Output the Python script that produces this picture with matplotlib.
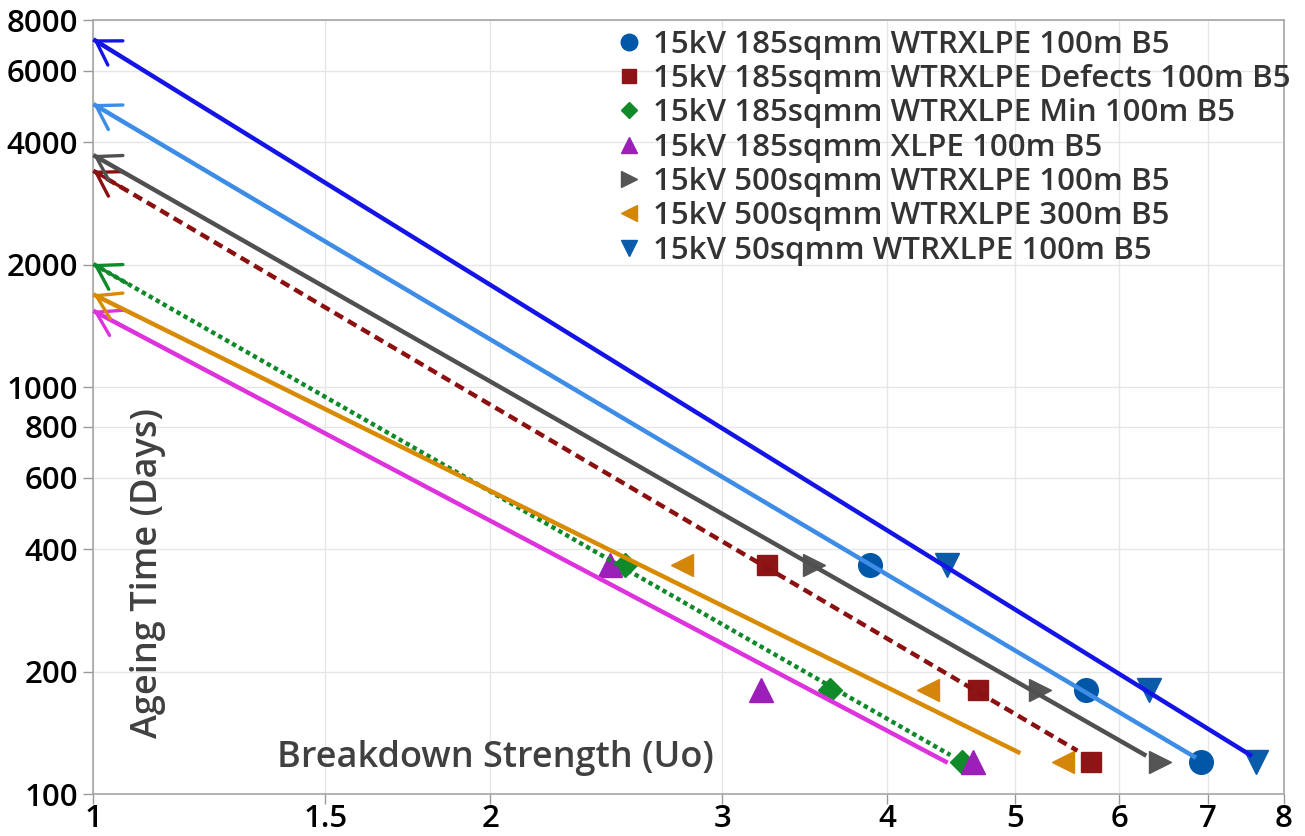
import numpy as np
import matplotlib
matplotlib.use('Agg')
import matplotlib.pyplot as plt
from matplotlib.ticker import FixedLocator, NullLocator

plt.rcParams['font.family'] = ['Open Sans', 'DejaVu Sans']

# series names (legend order)
labels = ['15kV 185sqmm WTRXLPE 100m B5',
          '15kV 185sqmm WTRXLPE Defects 100m B5',
          '15kV 185sqmm WTRXLPE Min 100m B5',
          '15kV 185sqmm XLPE 100m B5',
          '15kV 500sqmm WTRXLPE 100m B5',
          '15kV 500sqmm WTRXLPE 300m B5',
          '15kV 50sqmm WTRXLPE 100m B5']

# ageing times of the test points (days)
ageing_days = [365, 180, 120]

# breakdown strength (Uo) at each ageing time, one list per series
bd_185 = [3.885, 5.666, 6.915]
bd_185_defects = [3.243, 4.686, 5.710]
bd_185_min = [2.529, 3.623, 4.561]
bd_185_xlpe = [2.465, 3.212, 4.646]
bd_500_100 = [3.523, 5.221, 6.442]
bd_500_300 = [2.795, 4.298, 5.443]
bd_50 = [4.440, 6.319, 7.613]
breakdown = [bd_185, bd_185_defects, bd_185_min, bd_185_xlpe,
             bd_500_100, bd_500_300, bd_50]

# fitted life lines: ageing time at 1 Uo, and end point of each line
fit_y_at_1 = [4973, 3409, 2010, 1543, 3726, 1693, 7174]
fit_end_x = [6.86, 5.577, 4.467, 4.446, 6.29, 5.048, 7.565]
fit_end_y = [122.8, 127.8, 124.7, 119.4, 124.2, 126.0, 124.0]

marker_style = ['o', 's', 'D', '^', '>', '<', 'v']
marker_size = [17, 15, 12, 17, 16, 16, 17]
marker_color = ['#0057a8', '#8e1515', '#118a2a', '#9b1fb8',
                '#555555', '#d4860b', '#0a5cab']
line_color = ['#3d8ce6', '#8b1010', '#0f8a2a', '#dd33dd',
              '#505050', '#d88a00', '#1414e6']
line_style = ['-', (0, (2.2, 1.3)), (0, (1, 0.8)), '-', '-', '-', '-']

xticks = [1, 1.5, 2, 3, 4, 5, 6, 7, 8]
yticks = [100, 200, 400, 600, 800, 1000, 2000, 4000, 6000, 8000]

fig = plt.figure(figsize=(13.05, 8.36), dpi=100)
ax = fig.add_axes([0.0715, 0.0502, 0.9124, 0.9258])
ax.set_xscale('log')
ax.set_yscale('log')
ax.set_xlim(1, 8)
ax.set_ylim(100, 8000)

for i in range(len(labels)):
    ax.plot(breakdown[i], ageing_days, ls='none', marker=marker_style[i],
            ms=marker_size[i], color=marker_color[i], mec=marker_color[i],
            label=labels[i], zorder=3)
    ax.plot([1, fit_end_x[i]], [fit_y_at_1[i], fit_end_y[i]],
            color=line_color[i], lw=3.2, ls=line_style[i],
            solid_capstyle='butt', zorder=4, clip_on=False)
    # open arrow head at the 1 Uo end
    k = np.log(fit_end_y[i] / fit_y_at_1[i]) / np.log(fit_end_x[i])
    xb = 1.06
    ax.annotate('', xy=(1, fit_y_at_1[i]),
                xytext=(xb, fit_y_at_1[i] * xb ** k),
                arrowprops=dict(arrowstyle='->,head_length=0.4,head_width=0.25',
                                color=line_color[i], lw=2.4,
                                mutation_scale=41, shrinkA=0, shrinkB=0),
                zorder=5, annotation_clip=False)

ax.xaxis.set_major_locator(FixedLocator(xticks))
ax.xaxis.set_minor_locator(NullLocator())
ax.set_xticklabels([f'{t:g}' for t in xticks])
ax.yaxis.set_major_locator(FixedLocator(yticks))
ax.yaxis.set_minor_locator(NullLocator())
ax.set_yticklabels([str(t) for t in yticks])
ax.tick_params(labelsize=22.5, length=7, width=1, color='#999999',
               labelcolor='black', pad=4)
ax.tick_params(axis='x', pad=0.5)
for lab in ax.get_xticklabels() + ax.get_yticklabels():
    lab.set_fontweight('semibold')

ax.grid(True, color='#e6e6e6', lw=1)
ax.set_axisbelow(True)
for s in ax.spines.values():
    s.set_color('#a6a6a6')
    s.set_linewidth(1.2)

ax.text(0.046, 0.285, 'Ageing Time (Days)', transform=ax.transAxes,
        rotation=90, fontsize=26, fontweight='semibold', color='#404040',
        ha='center', va='center')
ax.text(0.338, 0.046, 'Breakdown Strength (Uo)', transform=ax.transAxes,
        fontsize=26, fontweight='semibold', color='#404040',
        ha='center', va='center')

leg = ax.legend(loc='upper right', bbox_to_anchor=(1.021, 1.012), frameon=False,
                markerscale=0.7, handlelength=0.6,
                handletextpad=0.45, labelspacing=0.14, borderaxespad=0.2,
                prop={'size': 22.5, 'weight': 'semibold'})
for t in leg.get_texts():
    t.set_color('#333333')

plt.savefig('out.png', dpi=100)
